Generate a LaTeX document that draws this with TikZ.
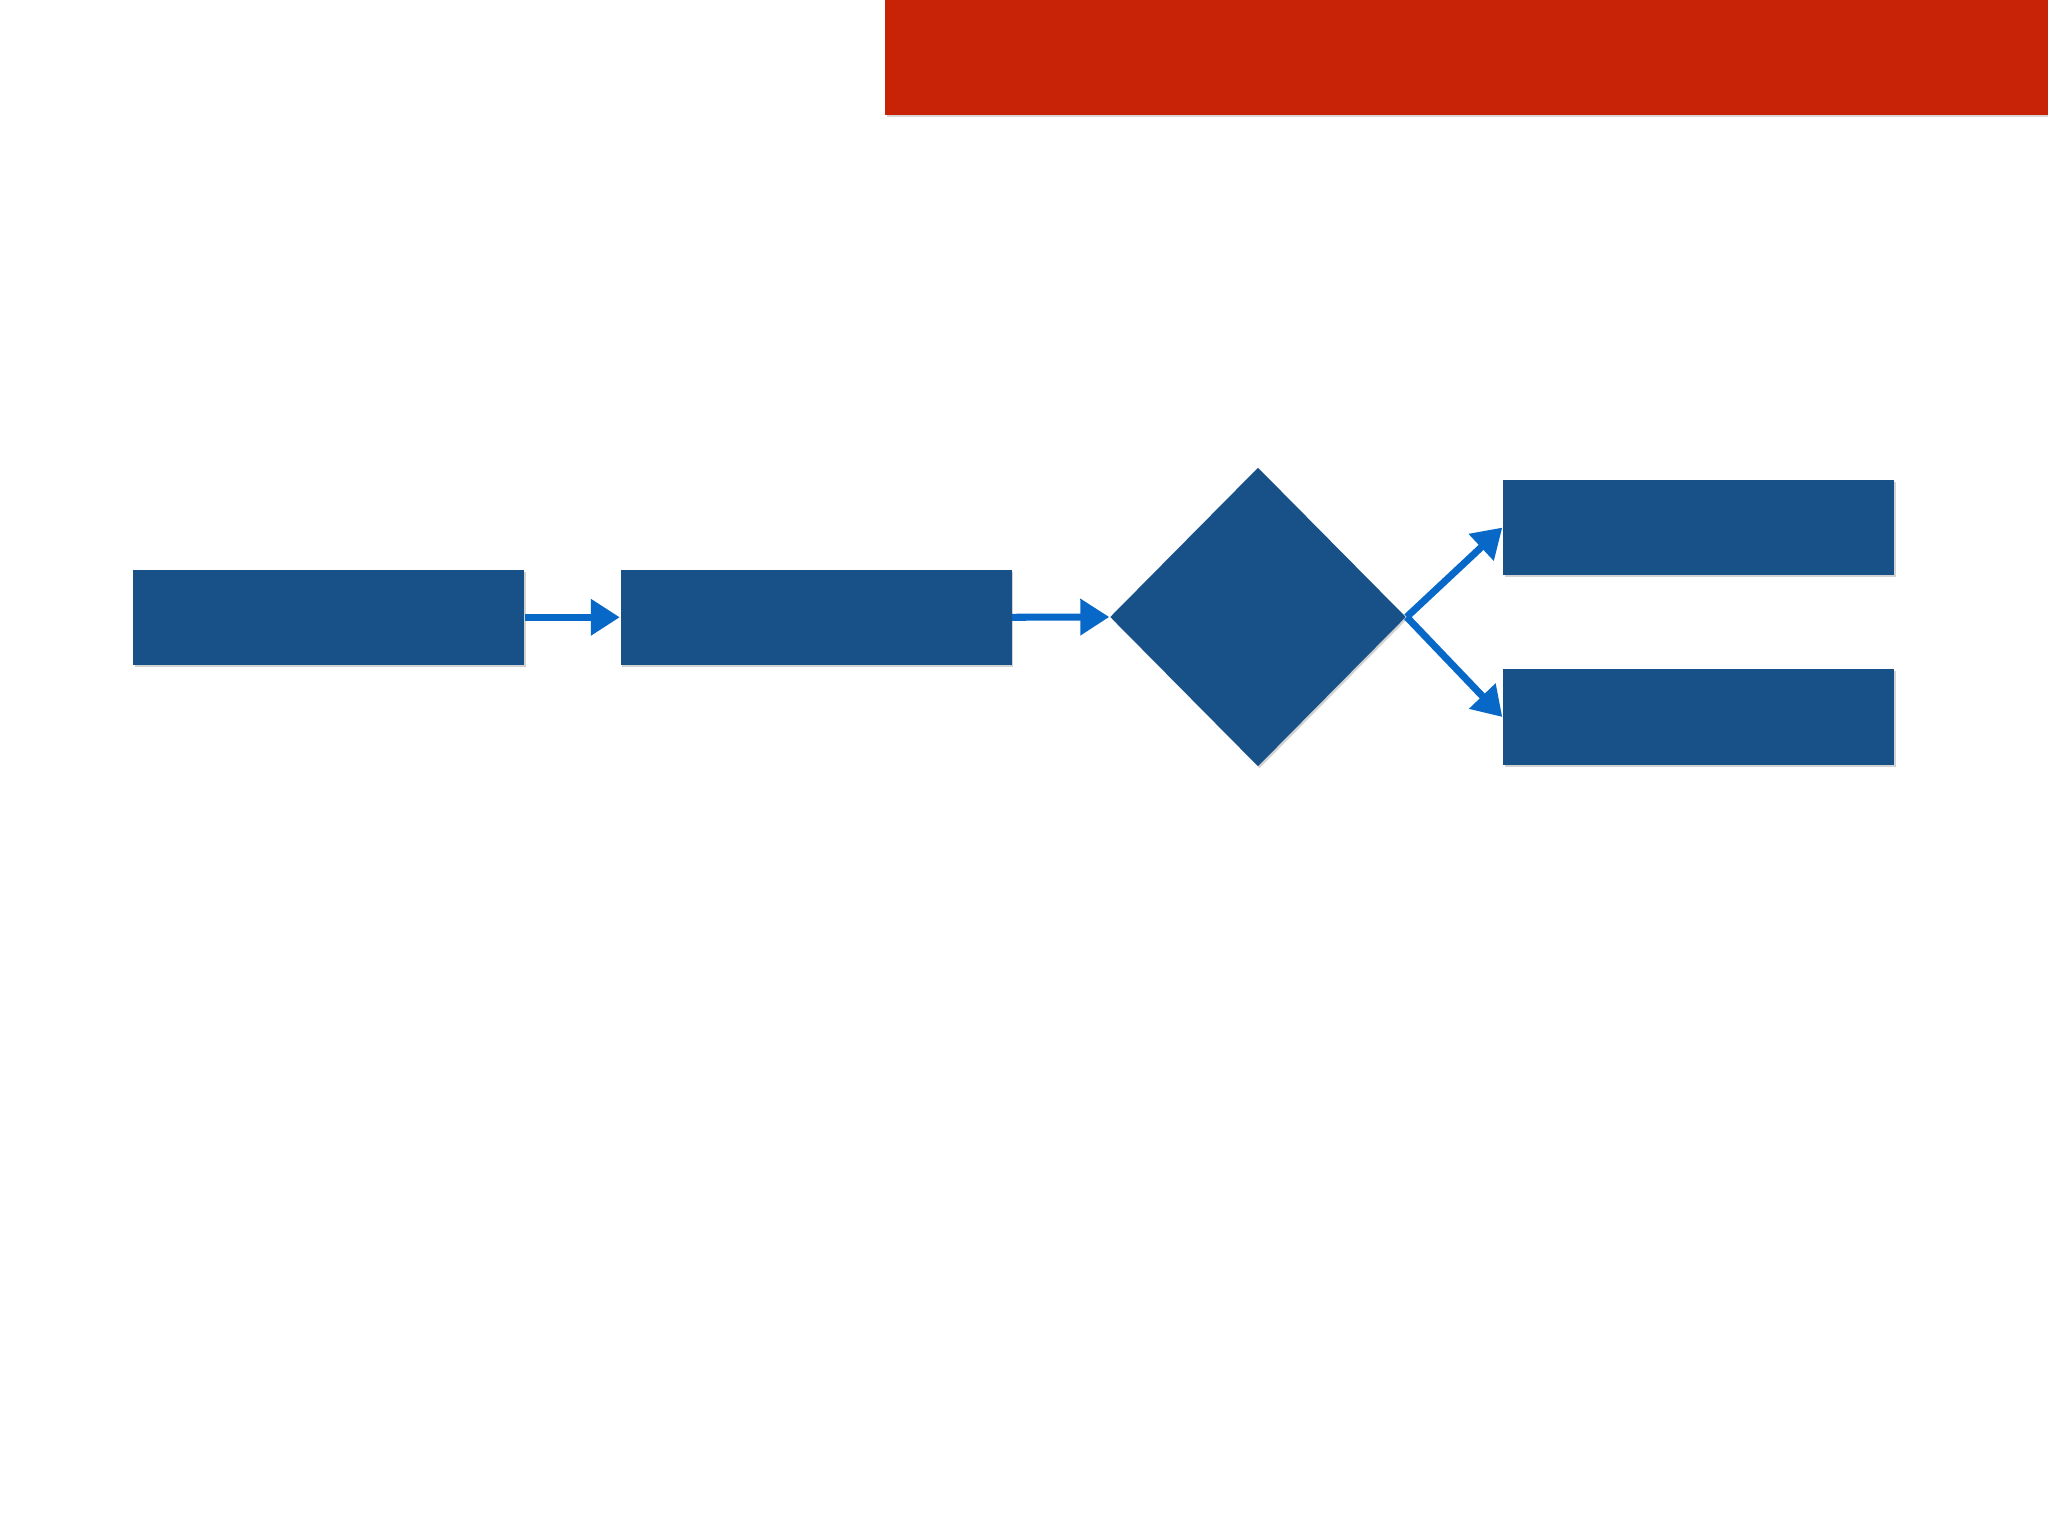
\documentclass[tikz,border=0pt]{standalone}
\usetikzlibrary{shapes.geometric,arrows.meta,shadows}

\definecolor{boxblue}{RGB}{24,81,135}
\definecolor{linkblue}{RGB}{8,104,200}
\definecolor{barred}{RGB}{200,35,6}

\begin{document}
\begin{tikzpicture}[
    step box/.style={rectangle, fill=boxblue, inner sep=0pt,
        minimum width=3.91cm, minimum height=0.955cm,
        drop shadow={opacity=0.35, shadow xshift=0.015cm, shadow yshift=-0.02cm}},
    choice/.style={diamond, aspect=1, fill=boxblue, inner sep=0pt,
        minimum width=2.96cm, minimum height=2.99cm,
        drop shadow={opacity=0.35, shadow xshift=0.015cm, shadow yshift=-0.02cm}},
    link/.style={linkblue, line width=2pt,
        -{Triangle[length=0.29cm, width=0.35cm]}},
]
\useasboundingbox (0,0) rectangle (20.48,15.36);
\fill[white] (0,0) rectangle (20.48,15.36);

% Title bar
\node[rectangle, fill=barred, inner sep=0pt, minimum width=11.7cm, minimum height=1.15cm,
    drop shadow={opacity=0.3, shadow xshift=0.015cm, shadow yshift=-0.025cm}]
    (title) at (14.70,14.785) {};

% Process steps
\node[step box] (S1) at (3.285,9.187) {};
\node[step box] (S2) at (8.16,9.187) {};

% Decision
\node[choice] (D) at (12.58,9.19) {};

% Outcomes
\node[step box] (Y) at (16.985,10.084) {};
\node[step box] (N) at (16.985,8.19) {};

% Connections
\draw[link] (S1.east) -- (S2.west);
\draw[link] (S2.east) -- (D.west);
\draw[link] (D.east) -- (Y.west);
\draw[link] (D.east) -- (N.west);
\end{tikzpicture}
\end{document}
